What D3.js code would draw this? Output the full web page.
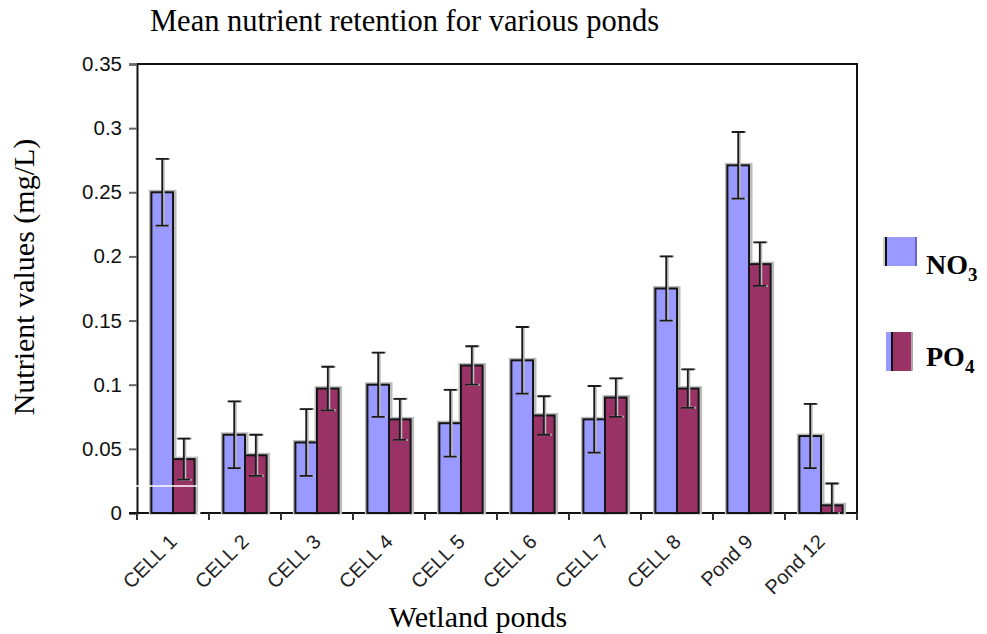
<!DOCTYPE html>
<html>
<head>
<meta charset="utf-8">
<script src="https://cdn.jsdelivr.net/npm/d3@7"></script>
<style>
  body { margin: 0; background: #fff; }
  svg { display: block; }
  .serif { font-family: "Liberation Serif", "Times New Roman", serif; }
  .sans { font-family: "Liberation Sans", Arial, sans-serif; }
</style>
</head>
<body>
<div id="chart"></div>
<script>
let categories = ["CELL 1", "CELL 2", "CELL 3", "CELL 4", "CELL 5", "CELL 6", "CELL 7", "CELL 8", "Pond 9", "Pond 12"]
let series = ["NO3", "PO4"]
let no3 = [0.250, 0.061, 0.055, 0.100, 0.070, 0.119, 0.073, 0.175, 0.271, 0.060]
let no3Err = [0.026, 0.026, 0.026, 0.025, 0.026, 0.026, 0.026, 0.025, 0.026, 0.025]
let po4 = [0.042, 0.045, 0.097, 0.073, 0.115, 0.076, 0.090, 0.097, 0.194, 0.006]
let po4Err = [0.016, 0.016, 0.017, 0.016, 0.015, 0.015, 0.015, 0.015, 0.017, 0.017]
let yTicks = [0, 0.05, 0.1, 0.15, 0.2, 0.25, 0.3, 0.35]
let yTickLabels = ["0", "0.05", "0.1", "0.15", "0.2", "0.25", "0.3", "0.35"]

let width = 987
let height = 634
let margin = { top: 64, right: 130, bottom: 121, left: 137 }
let colors = { NO3: "#9999ff", PO4: "#993366" }

let svg = d3.select("#chart")
  .append("svg")
  .attr("width", width)
  .attr("height", height)

let x = d3.scaleBand()
  .domain(categories)
  .range([margin.left, width - margin.right])

let x1 = d3.scaleBand()
  .domain(series)
  .range([x.bandwidth() * 0.2, x.bandwidth() * 0.8])

let y = d3.scaleLinear()
  .domain([0, 0.35])
  .range([height - margin.bottom, margin.top])

// rows of data: one per category and series
let rows = []
categories.forEach((c, i) => {
  rows.push({ cat: c, s: "NO3", v: no3[i], e: no3Err[i] })
  rows.push({ cat: c, s: "PO4", v: po4[i], e: po4Err[i] })
})

// title
svg.append("text")
  .attr("class", "serif")
  .attr("x", 150)
  .attr("y", 31)
  .style("font-size", "30.5px")
  .text("Mean nutrient retention for various ponds")

// frame (top + right)
let x0 = margin.left, x2 = width - margin.right
let yTop = y(0.35), yBot = y(0)
svg.append("path")
  .attr("d", `M ${x0} ${yTop} H ${x2} V ${yBot}`)
  .attr("fill", "none")
  .attr("stroke", "#111")
  .attr("stroke-width", 2)

// y axis
let yAxis = svg.append("g")
  .attr("class", "sans")
  .attr("transform", `translate(${x0},0)`)
  .call(d3.axisLeft(y).tickValues(yTicks).tickFormat((d, i) => yTickLabels[i]).tickSize(8).tickPadding(7))
yAxis.select(".domain").attr("stroke", "#111").attr("stroke-width", 2)
yAxis.selectAll(".tick line").attr("stroke", "#666").attr("stroke-width", 2)
yAxis.selectAll(".tick text").style("font-size", "20.5px").attr("fill", "#111")

// x axis
let xAxis = svg.append("g")
  .attr("class", "sans")
  .attr("transform", `translate(0,${yBot})`)
  .call(d3.axisBottom(x).tickSize(0).tickFormat(""))
xAxis.select(".domain").attr("d", `M ${x0 - 8} 0 H ${x2}`).attr("stroke", "#111").attr("stroke-width", 2)

let bounds = categories.map(c => x(c)).concat([x2])
xAxis.selectAll(".bound")
  .data(bounds)
  .join("line")
  .attr("class", "bound")
  .attr("x1", d => d).attr("x2", d => d)
  .attr("y1", 0).attr("y2", 7)
  .attr("stroke", "#333")
  .attr("stroke-width", 2)

xAxis.selectAll(".xlab")
  .data(categories)
  .join("text")
  .attr("class", "xlab")
  .attr("text-anchor", "end")
  .attr("transform", d => `translate(${x(d) + x.bandwidth() / 2 + 5},${30}) rotate(-45)`)
  .style("font-size", "20px")
  .attr("fill", "#222")
  .text(d => d)

// bars
let bars = svg.append("g")
bars.selectAll(".shadow")
  .data(rows)
  .join("rect")
  .attr("class", "shadow")
  .attr("x", d => x(d.cat) + x1(d.s) - 1)
  .attr("y", d => y(d.v) - 1)
  .attr("width", x1.bandwidth() + 3)
  .attr("height", d => yBot - y(d.v) + 1)
  .attr("fill", "none")
  .attr("stroke", "#bbb")
  .attr("stroke-width", 3)

bars.selectAll(".bar")
  .data(rows)
  .join("rect")
  .attr("class", "bar")
  .attr("x", d => x(d.cat) + x1(d.s))
  .attr("y", d => y(d.v))
  .attr("width", x1.bandwidth())
  .attr("height", d => yBot - y(d.v))
  .attr("fill", d => colors[d.s])
  .attr("stroke", "#151515")
  .attr("stroke-width", 2)

// error bars
let cap = 6.5
let errs = svg.append("g")
function errPath(d, dx) {
  let cx = x(d.cat) + x1(d.s) + x1.bandwidth() / 2 + dx
  let hi = y(d.v + d.e)
  let lo = y(Math.max(0, d.v - d.e))
  return `M ${cx - cap} ${hi} H ${cx + cap} M ${cx} ${hi} V ${lo} M ${cx - cap} ${lo} H ${cx + cap}`
}
errs.selectAll(".errShadow")
  .data(rows)
  .join("path")
  .attr("class", "errShadow")
  .attr("d", d => errPath(d, 1.5))
  .attr("fill", "none")
  .attr("stroke", "#bbb")
  .attr("stroke-width", 2)
errs.selectAll(".err")
  .data(rows)
  .join("path")
  .attr("class", "err")
  .attr("d", d => errPath(d, 0))
  .attr("fill", "none")
  .attr("stroke", "#1a1a1a")
  .attr("stroke-width", 1.8)

// small white artefact line near the first group
svg.append("line")
  .attr("x1", x0 - 2).attr("x2", x(categories[0]) + x.bandwidth() * 0.84)
  .attr("y1", y(0.021)).attr("y2", y(0.021))
  .attr("stroke", "#fff").attr("stroke-width", 1.5)
svg.append("line")
  .attr("x1", x(categories[0]) + x.bandwidth() * 0.84).attr("x2", x(categories[0]) + x.bandwidth() * 0.88)
  .attr("y1", yBot).attr("y2", yBot)
  .attr("stroke", "#fff").attr("stroke-width", 3)

// axis titles
svg.append("text")
  .attr("class", "serif")
  .attr("text-anchor", "middle")
  .attr("transform", `translate(34,277) rotate(-90)`)
  .style("font-size", "30px")
  .text("Nutrient values (mg/L)")

svg.append("text")
  .attr("class", "serif")
  .attr("text-anchor", "middle")
  .attr("x", 478)
  .attr("y", 627)
  .style("font-size", "30px")
  .text("Wetland ponds")

// legend
let legendY = [237, 332]
let legend = svg.append("g")
series.forEach((s, i) => {
  let g = legend.append("g").attr("transform", `translate(884,${legendY[i]})`)
  let h = i === 0 ? 29 : 39
  if (i === 0) {
    g.append("rect").attr("x", -1).attr("y", 0).attr("width", 3).attr("height", h).attr("fill", "#ccc")
    g.append("rect").attr("x", 2).attr("y", 0).attr("width", 31).attr("height", h).attr("fill", colors.NO3)
    g.append("rect").attr("x", 1).attr("y", 0).attr("width", 2).attr("height", h).attr("fill", "#111")
    g.append("rect").attr("x", 31).attr("y", 0).attr("width", 2).attr("height", h).attr("fill", "#6666cc")
  } else {
    g.append("rect").attr("x", 2).attr("y", 0).attr("width", 5).attr("height", h).attr("fill", colors.NO3)
    g.append("rect").attr("x", 7).attr("y", 0).attr("width", 2).attr("height", h).attr("fill", "#111")
    g.append("rect").attr("x", 9).attr("y", 0).attr("width", 19).attr("height", h).attr("fill", colors.PO4)
    g.append("rect").attr("x", 27).attr("y", 0).attr("width", 2).attr("height", h).attr("fill", "#aaa")
  }
  let t = legend.append("text")
    .attr("class", "serif")
    .attr("x", 926)
    .attr("y", i === 0 ? 274 : 366)
    .style("font-size", "28px")
    .style("font-weight", "bold")
    .text(s.slice(0, 2))
  t.append("tspan")
    .attr("dy", 7)
    .style("font-size", "19px")
    .text(s.slice(2))
})
</script>
</body>
</html>
